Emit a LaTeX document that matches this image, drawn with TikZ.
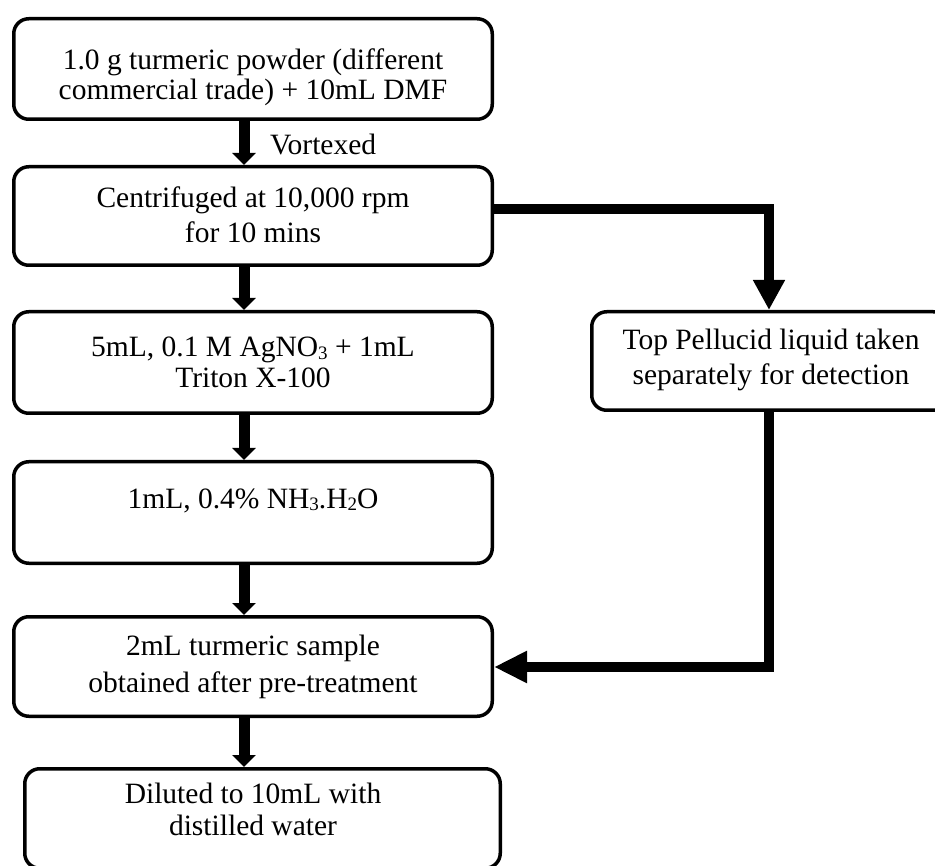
\documentclass[tikz,border=0pt]{standalone}
\usepackage{fontspec}
\setmainfont{Liberation Serif}
\usetikzlibrary{arrows.meta}
\newcommand{\sbs}[1]{\raisebox{-0.1em}{\fontsize{19}{19}\selectfont #1}}
\begin{document}
\begin{tikzpicture}[x=1pt,y=-1pt,
  box/.style={draw=black,line width=3.5pt,rounded corners=15pt,inner sep=0pt,minimum width=478.5pt,fill=white},
  txt/.style={inner sep=0pt,anchor=base,font=\fontsize{29.5}{35}\selectfont},
  arrmain/.style={line width=11pt,-{Triangle[width=23pt,length=12pt]}},
  arrside/.style={line width=10pt,-{Triangle[width=30pt,length=30pt]}}
]
\useasboundingbox (0,0) rectangle (935,866);
% boxes
\node[box,minimum height=100.5pt] (B1) at (253,69) {};
\node[box,minimum height=98.5pt] (B2) at (253,216) {};
\node[box,minimum height=101.5pt] (B3) at (253,362.5) {};
\node[box,minimum height=101.5pt] (B4) at (253,512.5) {};
\node[box,minimum height=99.5pt] (B5) at (253,666.5) {};
\node[box,minimum width=475.5pt,minimum height=99.5pt] (B6) at (262.5,818.5) {};
\node[box,minimum width=356.5pt,minimum height=98.5pt] (R) at (770,361) {};
% texts
\node[txt] (t1a) at (253,70) {1.0 g turmeric powder (different};
\node[txt] (t1b) at (253,100) {commercial trade) + 10mL DMF};
\node[txt,anchor=base west] (tv) at (270,155) {Vortexed};
\node[txt] (t2a) at (253,208) {Centrifuged at 10,000 rpm};
\node[txt] (t2b) at (253,243) {for 10 mins};
\node[txt] (t3a) at (253,357) {5mL, 0.1 M AgNO\sbs{3} + 1mL};
\node[txt] (t3b) at (253,388) {Triton X-100};
\node[txt] (t4a) at (253,508) {1mL, 0.4\% NH\sbs{3}.H\sbs{2}O};
\node[txt] (t5a) at (253,655) {2mL turmeric sample};
\node[txt] (t5b) at (253,692) {obtained after pre-treatment};
\node[txt] (t6a) at (253,803) {Diluted to 10mL with};
\node[txt] (t6b) at (253,835) {distilled water};
\node[txt] (tra) at (771,350) {Top Pellucid liquid taken};
\node[txt] (trb) at (771,385) {separately for detection};
% helper coordinates
\coordinate (ax) at (244,0);
\coordinate (rx) at (769,0);
\coordinate (cy) at (0,209);
\coordinate (by) at (0,667);
% main arrows
\draw[arrmain] (B1.south -| ax) -- (B2.north -| ax);
\draw[arrmain] (B2.south -| ax) -- (B3.north -| ax);
\draw[arrmain] (B3.south -| ax) -- (B4.north -| ax);
\draw[arrmain] (B4.south -| ax) -- (B5.north -| ax);
\draw[arrmain] (B5.south -| ax) -- (B6.north -| ax);
% side connectors
\draw[arrside] (B2.east |- cy) -| (R.north -| rx);
\draw[line width=10pt,-{Triangle[width=30pt,length=33pt]}] (R.south -| rx) |- (B5.east |- by);
\end{tikzpicture}
\end{document}
